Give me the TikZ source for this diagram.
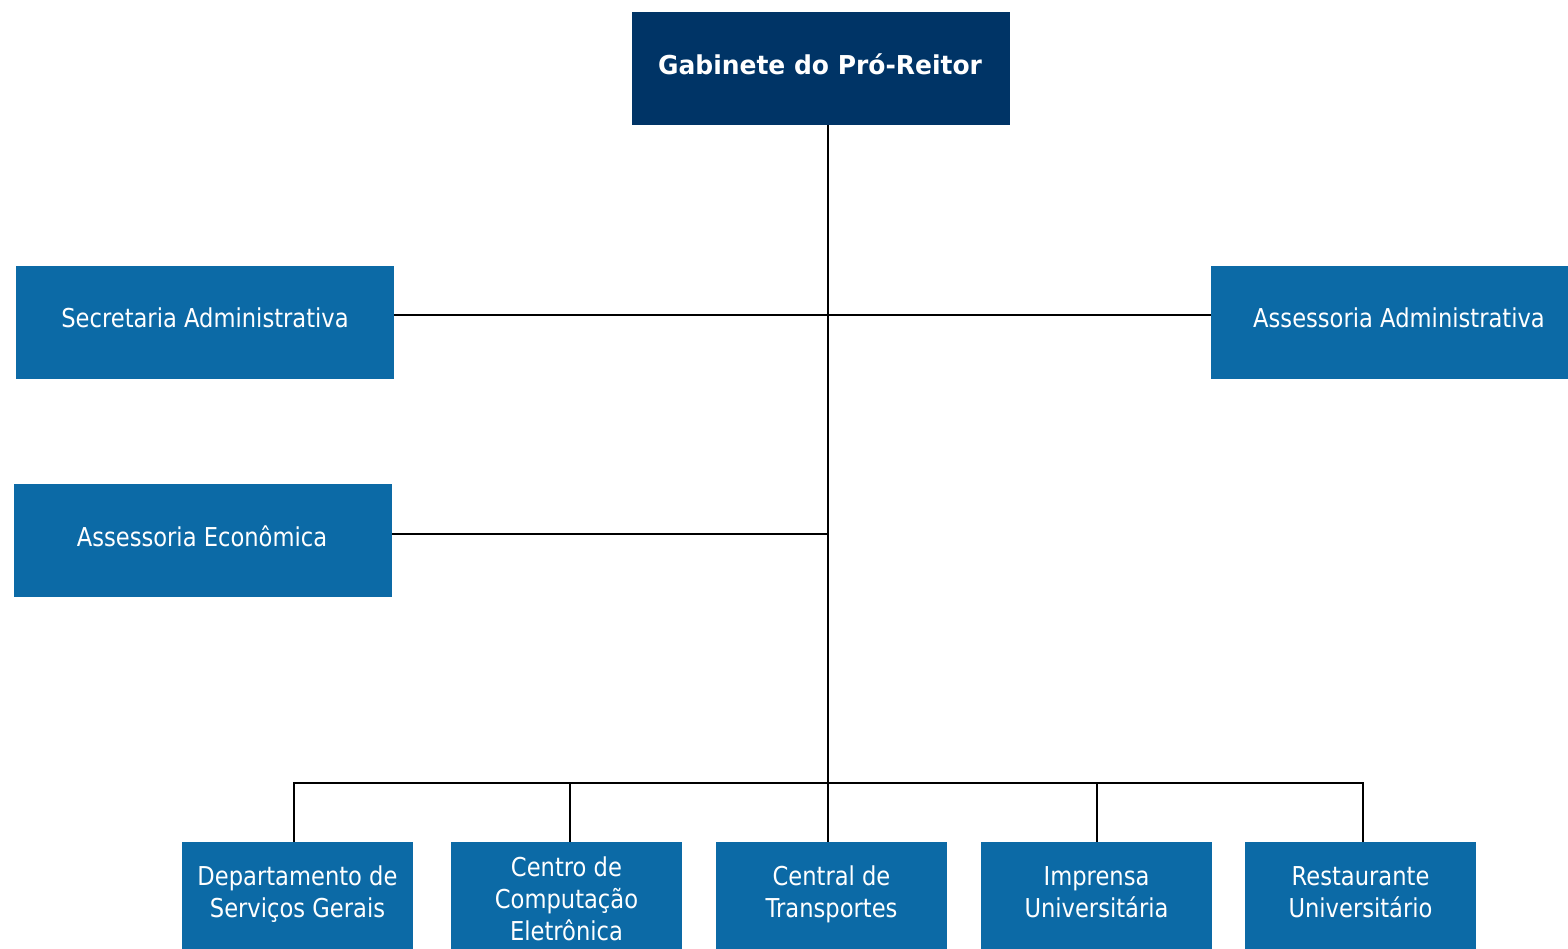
\documentclass[tikz,border=0pt]{standalone}
\usepackage{fontspec}
\setmainfont{DejaVu Sans}[FakeStretch=0.87]
\newfontfamily\titlefont{DejaVu Sans}[FakeStretch=0.96]
\definecolor{navy}{RGB}{0,52,102}
\definecolor{unitblue}{RGB}{12,106,166}
\begin{document}
\begin{tikzpicture}[x=1pt,y=-1pt,
  box/.style={rectangle, fill=unitblue, draw=none, inner sep=0pt},
  topbox/.style={rectangle, fill=navy, draw=none, inner sep=0pt},
  lbl/.style={anchor=base, inner sep=0pt, text=white, font=\fontsize{26}{32}\selectfont},
  conn/.style={draw=black, line width=2.2pt}]
\useasboundingbox (0,0) rectangle (1568,949);
% boxes
\node[topbox, minimum width=378pt, minimum height=113pt] (gab) at (821,68.5) {};
\node[box, minimum width=378pt, minimum height=113pt] (sec) at (205,322.5) {};
\node[box, minimum width=378pt, minimum height=113pt] (adm) at (1400,322.5) {};
\node[box, minimum width=378pt, minimum height=113pt] (eco) at (203,540.5) {};
\node[box, minimum width=231pt, minimum height=113pt] (dep) at (297.5,898.5) {};
\node[box, minimum width=231pt, minimum height=113pt] (cce) at (566.5,898.5) {};
\node[box, minimum width=231pt, minimum height=113pt] (ctr) at (831.5,898.5) {};
\node[box, minimum width=231pt, minimum height=113pt] (imp) at (1096.5,898.5) {};
\node[box, minimum width=231pt, minimum height=113pt] (rest) at (1360.5,898.5) {};
% labels
\node[lbl, font=\fontsize{26}{32}\selectfont\titlefont\bfseries] (gabt) at (820,75) {Gabinete do Pró-Reitor};
\node[lbl] (sect) at (205,328) {Secretaria Administrativa};
\node[lbl] (admt) at (1399,327) {Assessoria Administrativa};
\node[lbl] (ecot) at (202,546) {Assessoria Econômica};
\node[lbl] (dept) at (297.5,885) {\begin{tabular}[t]{@{}c@{}}Departamento de\\Serviços Gerais\end{tabular}};
\node[lbl] (ccet) at (566.5,876) {\begin{tabular}[t]{@{}c@{}}Centro de\\Computação\\Eletrônica\end{tabular}};
\node[lbl] (ctrt) at (831.5,885) {\begin{tabular}[t]{@{}c@{}}Central de\\Transportes\end{tabular}};
\node[lbl] (impt) at (1096.5,885) {\begin{tabular}[t]{@{}c@{}}Imprensa\\Universitária\end{tabular}};
\node[lbl] (restt) at (1360.5,885) {\begin{tabular}[t]{@{}c@{}}Restaurante\\Universitário\end{tabular}};
% connector points
\coordinate (trunkA) at (828,315);
\coordinate (trunkB) at (828,534);
\coordinate (bus0) at (294,783);
\coordinate (bus1) at (570,783);
\coordinate (bus2) at (828,783);
\coordinate (bus3) at (1097,783);
\coordinate (bus4) at (1363,783);
% connectors
\draw[conn] (gab.south -| bus2) -- (bus2);
\draw[conn] (sec.east |- trunkA) -- (adm.west |- trunkA);
\draw[conn] (eco.east |- trunkB) -- (trunkB);
\draw[conn, line cap=rect] (bus0) -- (bus4);
\draw[conn] (bus0) -- (bus0 |- dep.north);
\draw[conn] (bus1) -- (bus1 |- cce.north);
\draw[conn] (bus2) -- (bus2 |- ctr.north);
\draw[conn] (bus3) -- (bus3 |- imp.north);
\draw[conn] (bus4) -- (bus4 |- rest.north);
\end{tikzpicture}
\end{document}
